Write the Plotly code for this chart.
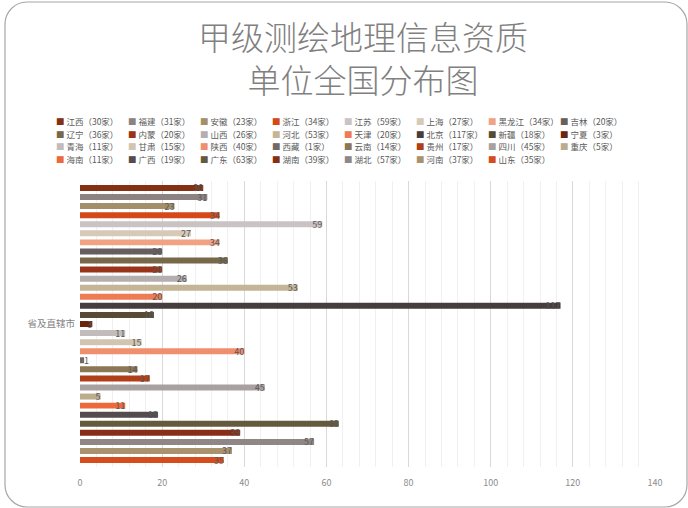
import plotly.graph_objects as go

provinces = ["江西", "福建", "安徽", "浙江", "江苏", "上海", "黑龙江", "吉林",
             "辽宁", "内蒙", "山西", "河北", "天津", "北京", "新疆", "宁夏",
             "青海", "甘肃", "陕西", "西藏", "云南", "贵州", "四川", "重庆",
             "海南", "广西", "广东", "湖南", "湖北", "河南", "山东"]
counts = [30, 31, 23, 34, 59, 27, 34, 20,
          36, 20, 26, 53, 20, 117, 18, 3,
          11, 15, 40, 1, 14, 17, 45, 5,
          11, 19, 63, 39, 57, 37, 35]
colors = ["#843015", "#8c8282", "#a38f6a", "#d4481a", "#c9c3c3", "#d6c9b8", "#f0a283", "#675e5e",
          "#766849", "#99341a", "#b5aeae", "#c4b597", "#ef7b55", "#463d3e", "#574b33", "#6b2410",
          "#c2bcbc", "#d1c5af", "#ef8f6e", "#716868", "#8a7756", "#b03f18", "#a9a1a1", "#bcac8e",
          "#ed693c", "#544b4d", "#645a3d", "#872e16", "#8f8686", "#a8936e", "#d64c1c"]
category = "省及直辖市"
x_ticks = [0, 20, 40, 60, 80, 100, 120, 140]
title_text = "甲级测绘地理信息资质<br>单位全国分布图"

FONT = "Noto Sans CJK SC"
W, H = 688, 508
L, R, T, B = 80, 33, 181, 41
PW, PH = W - L - R, H - T - B


def px(xp):
    return (xp - L) / PW


def py(yp):
    return (H - B - yp) / PH


fig = go.Figure()
legend_names = ["legend", "legend2", "legend3", "legend4"]
for i, (name, val, col) in enumerate(zip(provinces, counts, colors)):
    fig.add_trace(go.Bar(
        x=[val], y=[category], orientation="h", name=f"{name}（{val}家）",
        marker=dict(color=col, line=dict(width=0)),
        text=[str(val)],
        textposition="outside" if val <= 1 else "inside",
        insidetextanchor="end", textangle=0,
        constraintext="none",
        textfont=dict(family=FONT, size=9, color="#595959"),
        outsidetextfont=dict(family=FONT, size=9, color="#595959"),
        showlegend=False, hoverinfo="skip", cliponaxis=False,
    ))

# legend entries: coloured square glyph + label, one legend per row of 8
for i, (name, val, col) in enumerate(zip(provinces, counts, colors)):
    fig.add_trace(go.Scatter(
        x=[None], y=[None], mode="markers",
        name=f"<span style='color:{col}'>■</span> {name}（{val}家）",
        marker=dict(symbol="square", size=1, color="rgba(0,0,0,0)"),
        legend=legend_names[i // 8], showlegend=True, hoverinfo="skip",
    ))
# spacer entry at the end of each legend row so the last label is not clipped
for ln in legend_names:
    fig.add_trace(go.Scatter(
        x=[None], y=[None], mode="markers", name=" ",
        marker=dict(size=1, color="rgba(0,0,0,0)"),
        legend=ln, showlegend=True, hoverinfo="skip",
    ))

row_centers = [122, 134.5, 147, 159.5]
leg_common = dict(orientation="h", xanchor="left", yanchor="middle",
                  entrywidth=27, entrywidthmode="pixels", itemwidth=30,
                  bgcolor="rgba(0,0,0,0)", borderwidth=0, tracegroupgap=0,
                  font=dict(family=FONT, size=8.5, color="#595959"),
                  itemclick=False, itemdoubleclick=False)
layout_legends = {}
for k, ln in enumerate(legend_names):
    layout_legends[ln] = dict(leg_common, x=px(16), y=py(row_centers[k]))

# slide frame (rounded rectangle)
x0, x1, y0, y1, r = 5, 687, 2, 507, 22
k = 0.45
path = (f"M {px(x0 + r)},{py(y0)} L {px(x1 - r)},{py(y0)} "
        f"C {px(x1 - r * k)},{py(y0)} {px(x1)},{py(y0 + r * k)} {px(x1)},{py(y0 + r)} "
        f"L {px(x1)},{py(y1 - r)} "
        f"C {px(x1)},{py(y1 - r * k)} {px(x1 - r * k)},{py(y1)} {px(x1 - r)},{py(y1)} "
        f"L {px(x0 + r)},{py(y1)} "
        f"C {px(x0 + r * k)},{py(y1)} {px(x0)},{py(y1 - r * k)} {px(x0)},{py(y1 - r)} "
        f"L {px(x0)},{py(y0 + r)} "
        f"C {px(x0)},{py(y0 + r * k)} {px(x0 + r * k)},{py(y0)} {px(x0 + r)},{py(y0)} Z")

annotations = [dict(text=title_text, x=px(363), y=py(57), xref="paper", yref="paper",
                    xanchor="center", yanchor="middle", showarrow=False,
                    font=dict(family=FONT, size=33, color="#808080", weight=200))]

fig.update_layout(
    width=W, height=H,
    margin=dict(l=L, r=R, t=T, b=B, autoexpand=False),
    paper_bgcolor="white", plot_bgcolor="white",
    barmode="group", bargap=0.017, bargroupgap=0.34,
    xaxis=dict(range=[0, 140], tickvals=x_ticks, showgrid=True, gridcolor="#d9d9d9",
               gridwidth=1, zeroline=False, showline=False,
               minor=dict(dtick=4, showgrid=True, gridcolor="#f0f0f0", gridwidth=1),
               tickfont=dict(family=FONT, size=9, color="#8c8c8c"),
               ticks="", ticklabelstandoff=9, fixedrange=True),
    yaxis=dict(autorange="reversed", showgrid=False, zeroline=False, showline=False,
               tickfont=dict(family=FONT, size=9.5, color="#7f7f7f"),
               ticks="", ticklabelstandoff=4, fixedrange=True),
    shapes=[dict(type="path", xref="paper", yref="paper", path=path,
                 line=dict(color="#a6a6a6", width=1.2), fillcolor="rgba(0,0,0,0)",
                 layer="above")],
    annotations=annotations,
    showlegend=True,
    **layout_legends,
)

fig.write_html("out.html", config={"displayModeBar": False},
               post_script="document.body.style.margin='0px';")
